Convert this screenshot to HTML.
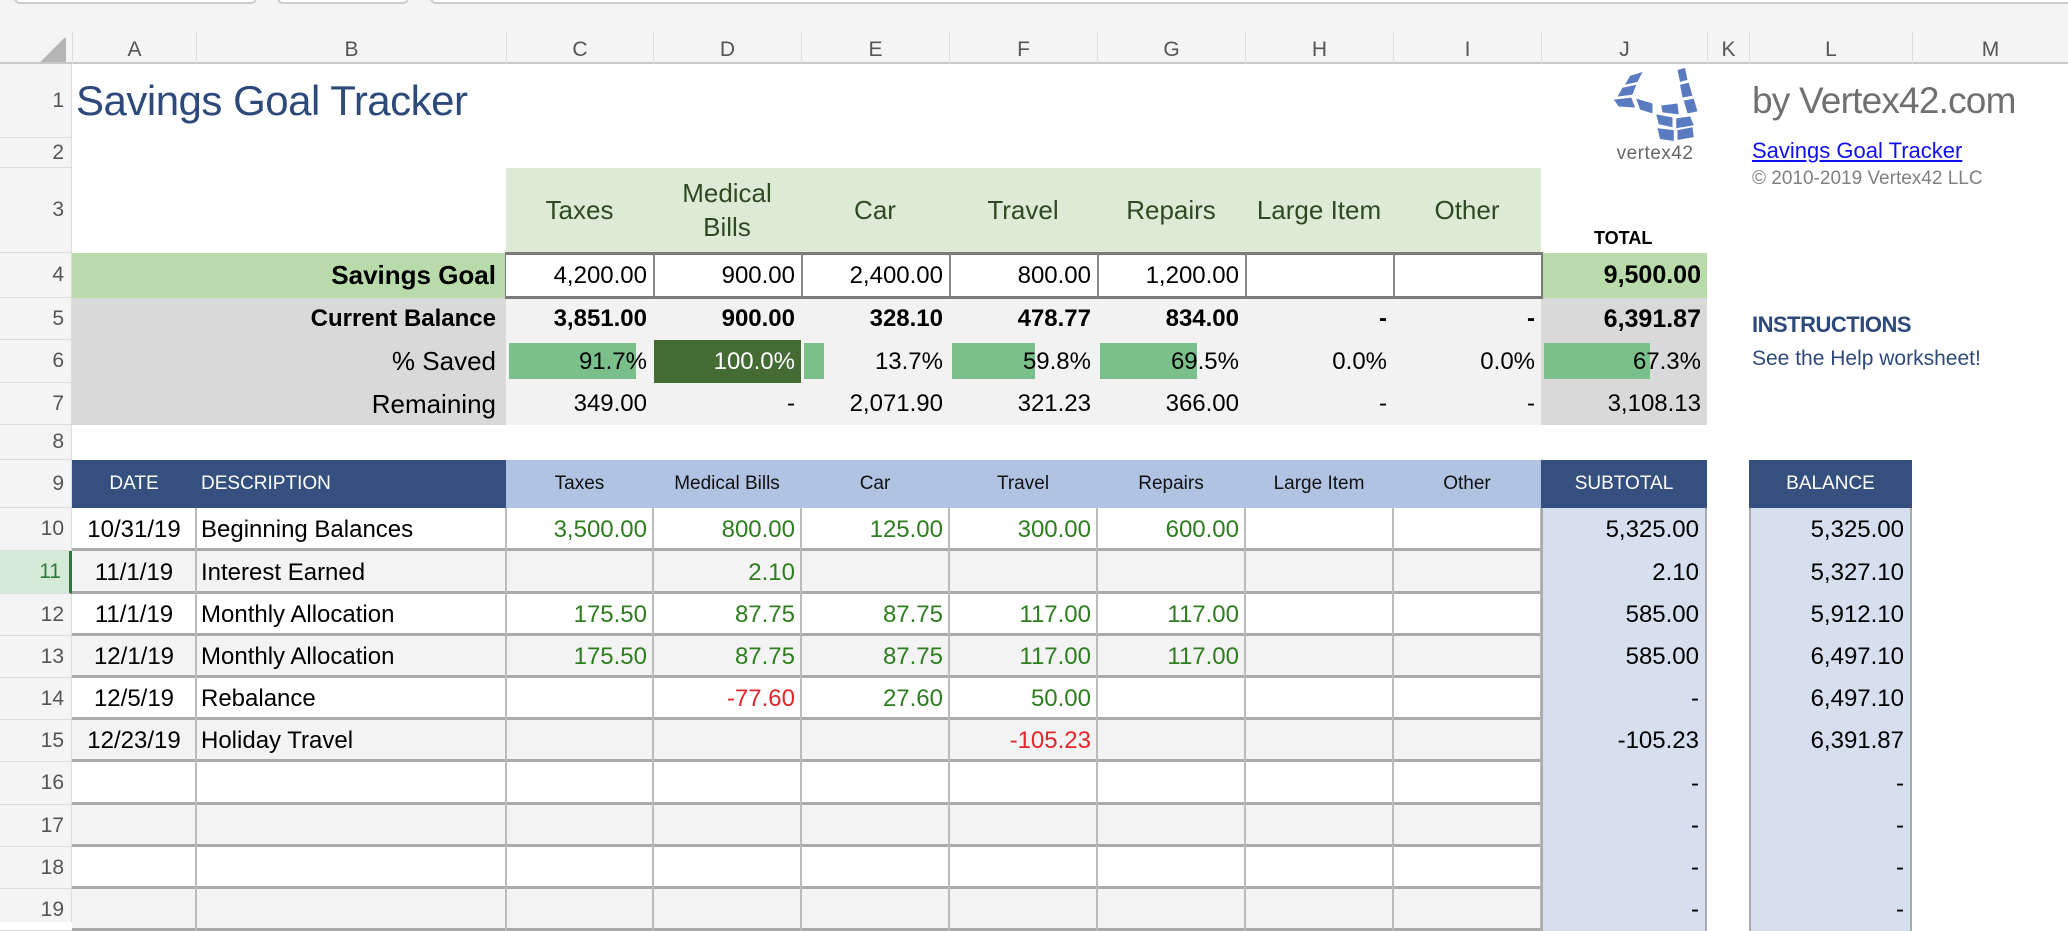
<!DOCTYPE html>
<html><head><meta charset="utf-8">
<style>
body{margin:0;width:2068px;height:922px;overflow:hidden;background:#fff;font-family:"Liberation Sans",Arial,sans-serif;position:relative}
.a{position:absolute;box-sizing:border-box;white-space:nowrap}
.c{position:absolute;box-sizing:border-box;white-space:nowrap;display:flex;align-items:center;overflow:visible}
</style></head><body>
<div class="a" style="left:0;top:0;width:2068px;height:32px;background:#f4f4f4"></div>
<div class="a" style="left:14px;top:-10px;width:243px;height:14px;border:2px solid #ccc;border-radius:6px;background:#fff"></div>
<div class="a" style="left:277px;top:-10px;width:132px;height:14px;border:2px solid #ccc;border-radius:6px;background:#fff"></div>
<div class="a" style="left:430px;top:-10px;width:1660px;height:14px;border:2px solid #ccc;border-radius:6px;background:#fff"></div>
<div id="grid"></div>
<svg class="a" style="left:1605px;top:68px" width="125" height="75" viewBox="0 0 100 76" preserveAspectRatio="none">
<g fill="#5a7bc0">
<polygon points="20,8 30,4 26,14 16,17"/><polygon points="14,20 25,17 22,27 10,29"/><polygon points="7,32 21,30 24,40 11,39"/>
<polygon points="25,31 38,36 38,46 28,42"/><polygon points="41,47 54,50 54,60 43,57"/><polygon points="57,51 68,49 71,58 57,61"/>
<polygon points="58,2 64,0 66,12 60,14"/><polygon points="60,17 67,15 70,28 62,30"/><polygon points="63,33 71,31 74,44 66,46"/>
<polygon points="45,38 58,36 59,47 46,45"/><polygon points="42,61 55,63 55,74 44,72"/><polygon points="58,63 70,60 71,70 58,73"/>
</g>
</svg>
<div class="a" style="left:1615px;top:143px;width:80px;text-align:center;font-size:19px;color:#666;letter-spacing:0.5px">vertex42</div>
<div class="a" style="left:76px;top:77px;font-size:42px;color:#2e4a7a;letter-spacing:-0.5px">Savings Goal Tracker</div>
<div class="a" style="left:1752px;top:80px;font-size:37px;color:#707070;letter-spacing:-0.8px">by Vertex42.com</div>
<div class="a" style="left:1752px;top:138px;font-size:22px;color:#1010ee;text-decoration:underline">Savings Goal Tracker</div>
<div class="a" style="left:1752px;top:168px;font-size:19px;color:#808080">© 2010-2019 Vertex42 LLC</div>
<div class="a" style="left:1752px;top:312px;font-size:22px;font-weight:bold;color:#2e4a7a;letter-spacing:-0.5px">INSTRUCTIONS</div>
<div class="a" style="left:1752px;top:347px;font-size:21px;color:#2e4a7a">See the Help worksheet!</div>
<div class="a" style="left:1594px;top:228px;font-size:18px;font-weight:bold;color:#000">TOTAL</div>
<script>
const colLetters=['A','B','C','D','E','F','G','H','I','J','K','L','M'];
const categories=['Taxes','Medical Bills','Car','Travel','Repairs','Large Item','Other'];
const goals=['4,200.00','900.00','2,400.00','800.00','1,200.00','',''];
const balances=['3,851.00','900.00','328.10','478.77','834.00','-','-'];
const pctSaved=[91.7,100.0,13.7,59.8,69.5,0.0,0.0];
const remaining=['349.00','-','2,071.90','321.23','366.00','-','-'];
const dates=['10/31/19','11/1/19','11/1/19','12/1/19','12/5/19','12/23/19','','','',''];
const descs=['Beginning Balances','Interest Earned','Monthly Allocation','Monthly Allocation','Rebalance','Holiday Travel','','','',''];
const txTaxes=['3,500.00','','175.50','175.50','','','','','',''];
const txMedical=['800.00','2.10','87.75','87.75','-77.60','','','','',''];
const txCar=['125.00','','87.75','87.75','27.60','','','','',''];
const txTravel=['300.00','','117.00','117.00','50.00','-105.23','','','',''];
const txRepairs=['600.00','','117.00','117.00','','','','','',''];
const subtotals=['5,325.00','2.10','585.00','585.00','-','-105.23','-','-','-','-'];
const balanceCol=['5,325.00','5,327.10','5,912.10','6,497.10','6,497.10','6,391.87','-','-','-','-'];

const X=[0,72,196,506,653,801,949,1097,1245,1393,1541,1707,1749,1912,2068];
const Y=[32,64,138,168,253,298,340,383,425,460,508,551,594,636,678,720,762,805,847,889,931];
const G=document.getElementById('grid');
function box(x0,y0,x1,y1,css,name,inter){
  const el=document.createElement('div');
  el.className='c';
  el.style.cssText=`left:${x0}px;top:${y0}px;width:${x1-x0}px;height:${y1-y0}px;`+(css||'');
  
  
  G.appendChild(el);return el;
}
box(0,32,2068,64,'background:#f4f4f4;border-bottom:2px solid #c8c8c8','column-header-bar',false);
for(let i=0;i<13;i++){
  const e=box(X[i+1],32,X[i+2],64,'justify-content:center;font-size:21px;color:#555;border-left:1px solid #ddd;padding-top:4px','column-'+colLetters[i].toLowerCase()+'-header',true);
  e.textContent=colLetters[i];
}
box(38,38,66,62,'background:linear-gradient(135deg,transparent 50%,#b5b5b5 50%)','select-all',true);
box(0,64,72,922,'background:#f4f4f4;border-right:1px solid #ddd','row-header-bar',false);
for(let r=1;r<=19;r++){
  const sel=r===11;
  const e=box(0,Y[r],72,Y[r+1],'justify-content:flex-end;padding-right:8px;font-size:21px;color:'+(sel?'#2d7a3a':'#555')+';border-bottom:1px solid #ddd;'+(sel?'background:#d4ead6;border-right:3px solid #2d7a3a;':''),'row-'+r+'-header',true);
  e.textContent=r;
}
box(506,168,1541,253,'background:#ddebd6','category-header-band',false);
for(let i=0;i<7;i++){
  const e=box(X[i+3],168,X[i+4],253,'justify-content:center;text-align:center;font-size:26px;color:#2f4a23;white-space:normal;line-height:1.3;padding:0 4px','category-header-'+i,false);
  e.textContent=categories[i];
}
const l4=box(72,253,506,298,'justify-content:flex-end;padding-right:10px;background:#b9dbab;font-size:26px;font-weight:bold','savings-goal-label',false);l4.textContent='Savings Goal';
box(72,298,506,425,'background:#d9d9d9','label-block',false);
const l5=box(72,298,506,340,'justify-content:flex-end;padding-right:10px;font-size:24px;font-weight:bold','current-balance-label',false);l5.textContent='Current Balance';
const l6=box(72,340,506,383,'justify-content:flex-end;padding-right:10px;font-size:26px','percent-saved-label',false);l6.textContent='% Saved';
const l7=box(72,383,506,425,'justify-content:flex-end;padding-right:10px;font-size:26px','remaining-label',false);l7.textContent='Remaining';
box(506,298,1541,425,'background:#f2f2f2','summary-block',false);
box(1541,253,1707,298,'background:#b9dbab','total-goal-bg',false);
box(1541,298,1707,425,'background:#d9d9d9','total-block',false);
box(505,252,1543,299,'border:3px solid #7a7a7a','goal-input-frame',false);
for(let i=0;i<7;i++){
  const x0=X[i+3],x1=X[i+4],w=x1-x0;
  const g=box(x0,253,x1,298,'justify-content:flex-end;padding-right:6px;font-size:24px;background:#fff;border-left:'+(i?'2px solid #8a8a8a':'none')+';border-top:2px solid #7a7a7a;border-bottom:2px solid #7a7a7a','goal-'+i,true);
  g.textContent=goals[i];
  const b=box(x0,298,x1,340,'justify-content:flex-end;padding-right:6px;font-size:24px;font-weight:bold','balance-'+i,false);
  b.textContent=balances[i];
  const p=pctSaved[i];
  if(p>=100){
    box(x0+1,340,x1,383,'background:#436b33','percent-bar-'+i,false);
    box(x1+3,343,x1+23,379,'background:#7bc08a','percent-bar-overflow-'+i,false);
  } else if(p>0){
    box(x0+3,343,x0+3+p/100*(w-9),379,'background:#7bc08a','percent-bar-'+i,false);
  }
  const t=box(x0,340,x1,383,'justify-content:flex-end;padding-right:6px;font-size:24px;color:'+(p>=100?'#fff':'#000'),'percent-'+i,false);
  t.textContent=pctSaved[i].toFixed(1)+'%';
  const rm=box(x0,383,x1,425,'justify-content:flex-end;padding-right:6px;font-size:24px','remaining-'+i,false);
  rm.textContent=remaining[i];
}
const tg=box(1541,253,1707,298,'justify-content:flex-end;padding-right:6px;font-size:25px;font-weight:bold','total-goal',false);tg.textContent='9,500.00';
const tb=box(1541,298,1707,340,'justify-content:flex-end;padding-right:6px;font-size:25px;font-weight:bold','total-balance',false);tb.textContent='6,391.87';
box(1544,343,1544+67.3/100*(166-9),379,'background:#7bc08a','total-percent-bar',false);
const tp=box(1541,340,1707,383,'justify-content:flex-end;padding-right:6px;font-size:24px','total-percent',false);tp.textContent='67.3%';
const tr=box(1541,383,1707,425,'justify-content:flex-end;padding-right:6px;font-size:24px','total-remaining',false);tr.textContent='3,108.13';
box(72,460,506,508,'background:#35507f','table-header-left',false);
const hd=box(72,460,196,508,'justify-content:center;font-size:19px;color:#fff','date-header',true);hd.textContent='DATE';
const hs=box(196,460,506,508,'padding-left:5px;font-size:19px;color:#fff','description-header',true);hs.textContent='DESCRIPTION';
box(506,460,1541,508,'background:#b0c3e2','category-table-header',false);
for(let i=0;i<7;i++){const e=box(X[i+3],460,X[i+4],508,'justify-content:center;font-size:19px;color:#111','table-header-'+i,true);e.textContent=categories[i];}
const hsub=box(1541,460,1707,508,'justify-content:center;font-size:19px;color:#fff;background:#35507f','subtotal-header',false);hsub.textContent='SUBTOTAL';
const hbal=box(1749,460,1912,508,'justify-content:center;font-size:19px;color:#fff;background:#35507f','balance-header',false);hbal.textContent='BALANCE';
const txCols=[txTaxes,txMedical,txCar,txTravel,txRepairs,null,null];
for(let r=0;r<10;r++){
  const y0=Y[10+r],y1=Y[11+r];
  const bg=r%2?'#f3f3f3':'#fff';
  box(72,y0,1541,y1,'background:'+bg+';border-bottom:3px solid #aaa','tx-row-'+(r+1),false);
  for(let c=1;c<10;c++) box(X[c+1]-1,y0,X[c+1]+1,y1,'background:#bbb','tx-divider',false);
  const d=box(72,y0,196,y1,'justify-content:center;font-size:24px','date-'+(r+1),true);d.textContent=dates[r];
  const ds=box(196,y0,506,y1,'padding-left:5px;font-size:24px','description-'+(r+1),true);ds.textContent=descs[r];
  for(let i=0;i<5;i++){
    const v=txCols[i][r];
    const e=box(X[i+3],y0,X[i+4],y1,'justify-content:flex-end;padding-right:6px;font-size:24px;color:'+(v.startsWith('-')?'#e3262a':'#2e7d1f'),'amount-'+(r+1)+'-'+i,true);
    e.textContent=v;
  }
  const s=box(1541,y0,1707,y1,'justify-content:flex-end;padding-right:6px;font-size:24px;background:#d6dfee;border-left:2px solid #aaa;border-right:2px solid #aaa','subtotal-'+(r+1),false);
  s.textContent=subtotals[r];
  const b=box(1749,y0,1912,y1,'justify-content:flex-end;padding-right:6px;font-size:24px;background:#d6dfee;border-left:2px solid #aaa;border-right:2px solid #aaa','running-balance-'+(r+1),false);
  b.textContent=balanceCol[r];
}
</script>
</body></html>
